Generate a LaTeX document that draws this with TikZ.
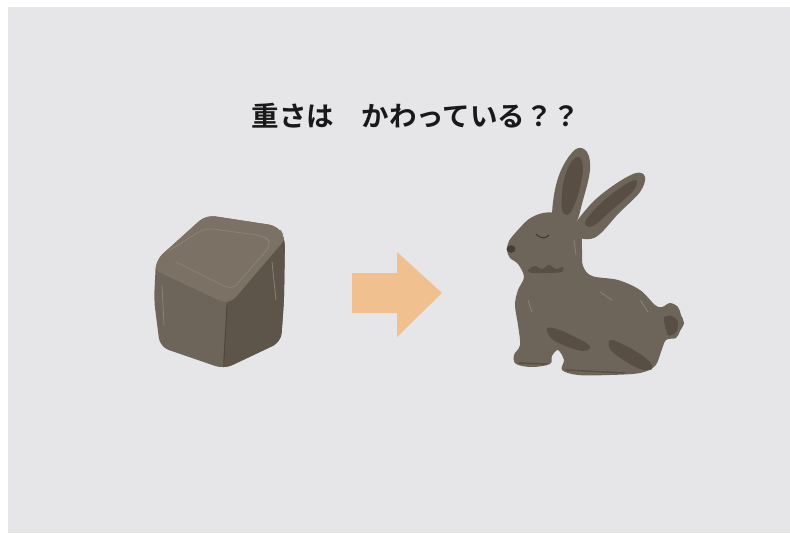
\documentclass[tikz,border=0pt]{standalone}
\usepackage{fontspec}
\newfontfamily\jpfont{Noto Sans CJK JP Bold}
\usetikzlibrary{positioning}

\definecolor{paper}{HTML}{E6E6E8}
\definecolor{clayTop}{HTML}{7B7265}
\definecolor{clayLeft}{HTML}{6E655A}
\definecolor{clayRight}{HTML}{5E554A}
\definecolor{clayDark}{HTML}{584E44}
\definecolor{clayLine}{HTML}{8A8274}
\definecolor{arrowFill}{HTML}{F0C18E}

\tikzset{
  clay/.style={fill=clayLeft, draw=none},
  shade/.style={fill=clayDark, draw=none},
  crease/.style={draw=clayLine, line width=0.8pt, line cap=round},
  title/.style={font=\jpfont\fontsize{27.5}{32}\selectfont, text=black!90, inner sep=0pt}
}

\begin{document}
\begin{tikzpicture}[x=1pt, y=-1pt]

    % Page and background
    \useasboundingbox (0,0) rectangle (790,533);
    \fill[paper] (8,7) rectangle (790,533);

    % Heading
    \node[title] (heading) at (416,116) {重さは　かわっている？？};

    % Clay block: left face first, then right and top faces clipped to it
    \begin{scope}
      \path[clip, rounded corners=9pt]
        (206,215) -- (278,226) -- (285,238) -- (284,300) -- (281,342)
        -- (224,369) -- (160,347) -- (154,300) -- (156,260) -- cycle;
      \fill[clayLeft] (140,200) rectangle (300,380);
      \fill[clayRight, rounded corners=6pt]
        (227,300) -- (284,232) -- (300,232) -- (300,380) -- (222,380) -- cycle;
      \fill[clayTop, rounded corners=10pt]
        (150,255) -- (205,210) -- (286,226) -- (288,236) -- (229,305) -- (150,268) -- cycle;
    \end{scope}
    % creases on the block
    \draw[crease, rounded corners=8pt]
      (170,250) -- (205,228) -- (265,236) -- (272,244) -- (232,290) -- (176,262);
    \draw[crease, draw=clayRight!80!black] (227,305) -- (224,360);
    \draw[crease] (272,262) -- (276,300);
    \draw[crease] (162,285) -- (164,325);

    % Arrow between the two shapes
    \fill[arrowFill] (352,273) -- (397,273) -- (397,252) -- (442,293)
      -- (397,337) -- (397,313) -- (352,313) -- cycle;

    % Rabbit: ears behind the head
    \fill[clayLeft] plot[smooth cycle, tension=0.6] coordinates {
      (554,222) (554,195) (562,168) (576,149) (587,152) (590,170) (583,200) (574,225)};
    \fill[clayDark] plot[smooth cycle, tension=0.6] coordinates {
      (562,210) (563,185) (570,164) (579,157) (583,170) (577,198) (569,214)};
    \fill[clayLeft] plot[smooth cycle, tension=0.6] coordinates {
      (572,232) (590,205) (614,185) (636,173) (645,177) (640,192) (619,213) (594,238)};
    \fill[clayDark] plot[smooth cycle, tension=0.6] coordinates {
      (585,222) (600,204) (620,188) (636,180) (633,191) (613,209) (593,226)};

    % Rabbit: body outline
    \fill[clayLeft] plot[smooth cycle, tension=0.55] coordinates {
      (507,250) (509,241) (517,231) (529,219) (543,213) (560,213) (574,219)
      (581,231) (582,250) (583,266) (592,276) (618,280) (640,290) (655,305)
      (662,307) (670,303) (678,307) (681,315) (684,323) (680,331) (676,338) (666,340)
      (661,352) (655,366) (640,373) (610,375) (578,375) (562,370) (564,360)
      (558,350) (552,356) (550,364) (532,367) (516,364) (514,355) (520,345)
      (518,325) (515,305) (518,290) (524,277) (518,264) (510,258)};

    % Rabbit: shadows and face
    \fill[shade] plot[smooth cycle, tension=0.6] coordinates {
      (547,328) (560,330) (577,338) (590,346) (584,351) (568,347) (552,339)};
    \fill[shade] plot[smooth cycle, tension=0.6] coordinates {
      (611,340) (630,348) (648,360) (652,369) (640,369) (622,359) (610,349)};
    \fill[shade] plot[smooth cycle, tension=0.5] coordinates {
      (528,270) (535,266) (542,269) (549,265) (556,269) (563,267)
      (562,272) (546,273) (531,273)};
    \fill[shade] plot[smooth cycle, tension=0.5] coordinates {
      (664,318) (672,316) (678,322) (676,332) (668,335)};
    \fill[clayDark!80!black] (511,249) ellipse [x radius=4.5, y radius=3.8];
    \draw[clayDark!70!black, line width=1pt, line cap=round]
      (536,234) .. controls (541,239) and (545,239) .. (549,235);
    \draw[clayDark, line width=1.4pt, line cap=round] (519,363) -- (547,364);
    \draw[clayDark, line width=1.4pt, line cap=round] (566,370) -- (625,373);

    % Rabbit: fur highlights
    \draw[crease] (528,300) -- (532,312);
    \draw[crease] (600,292) -- (612,300);
    \draw[crease] (640,300) -- (648,312);
    \draw[crease] (574,240) -- (576,255);

\end{tikzpicture}
\end{document}
